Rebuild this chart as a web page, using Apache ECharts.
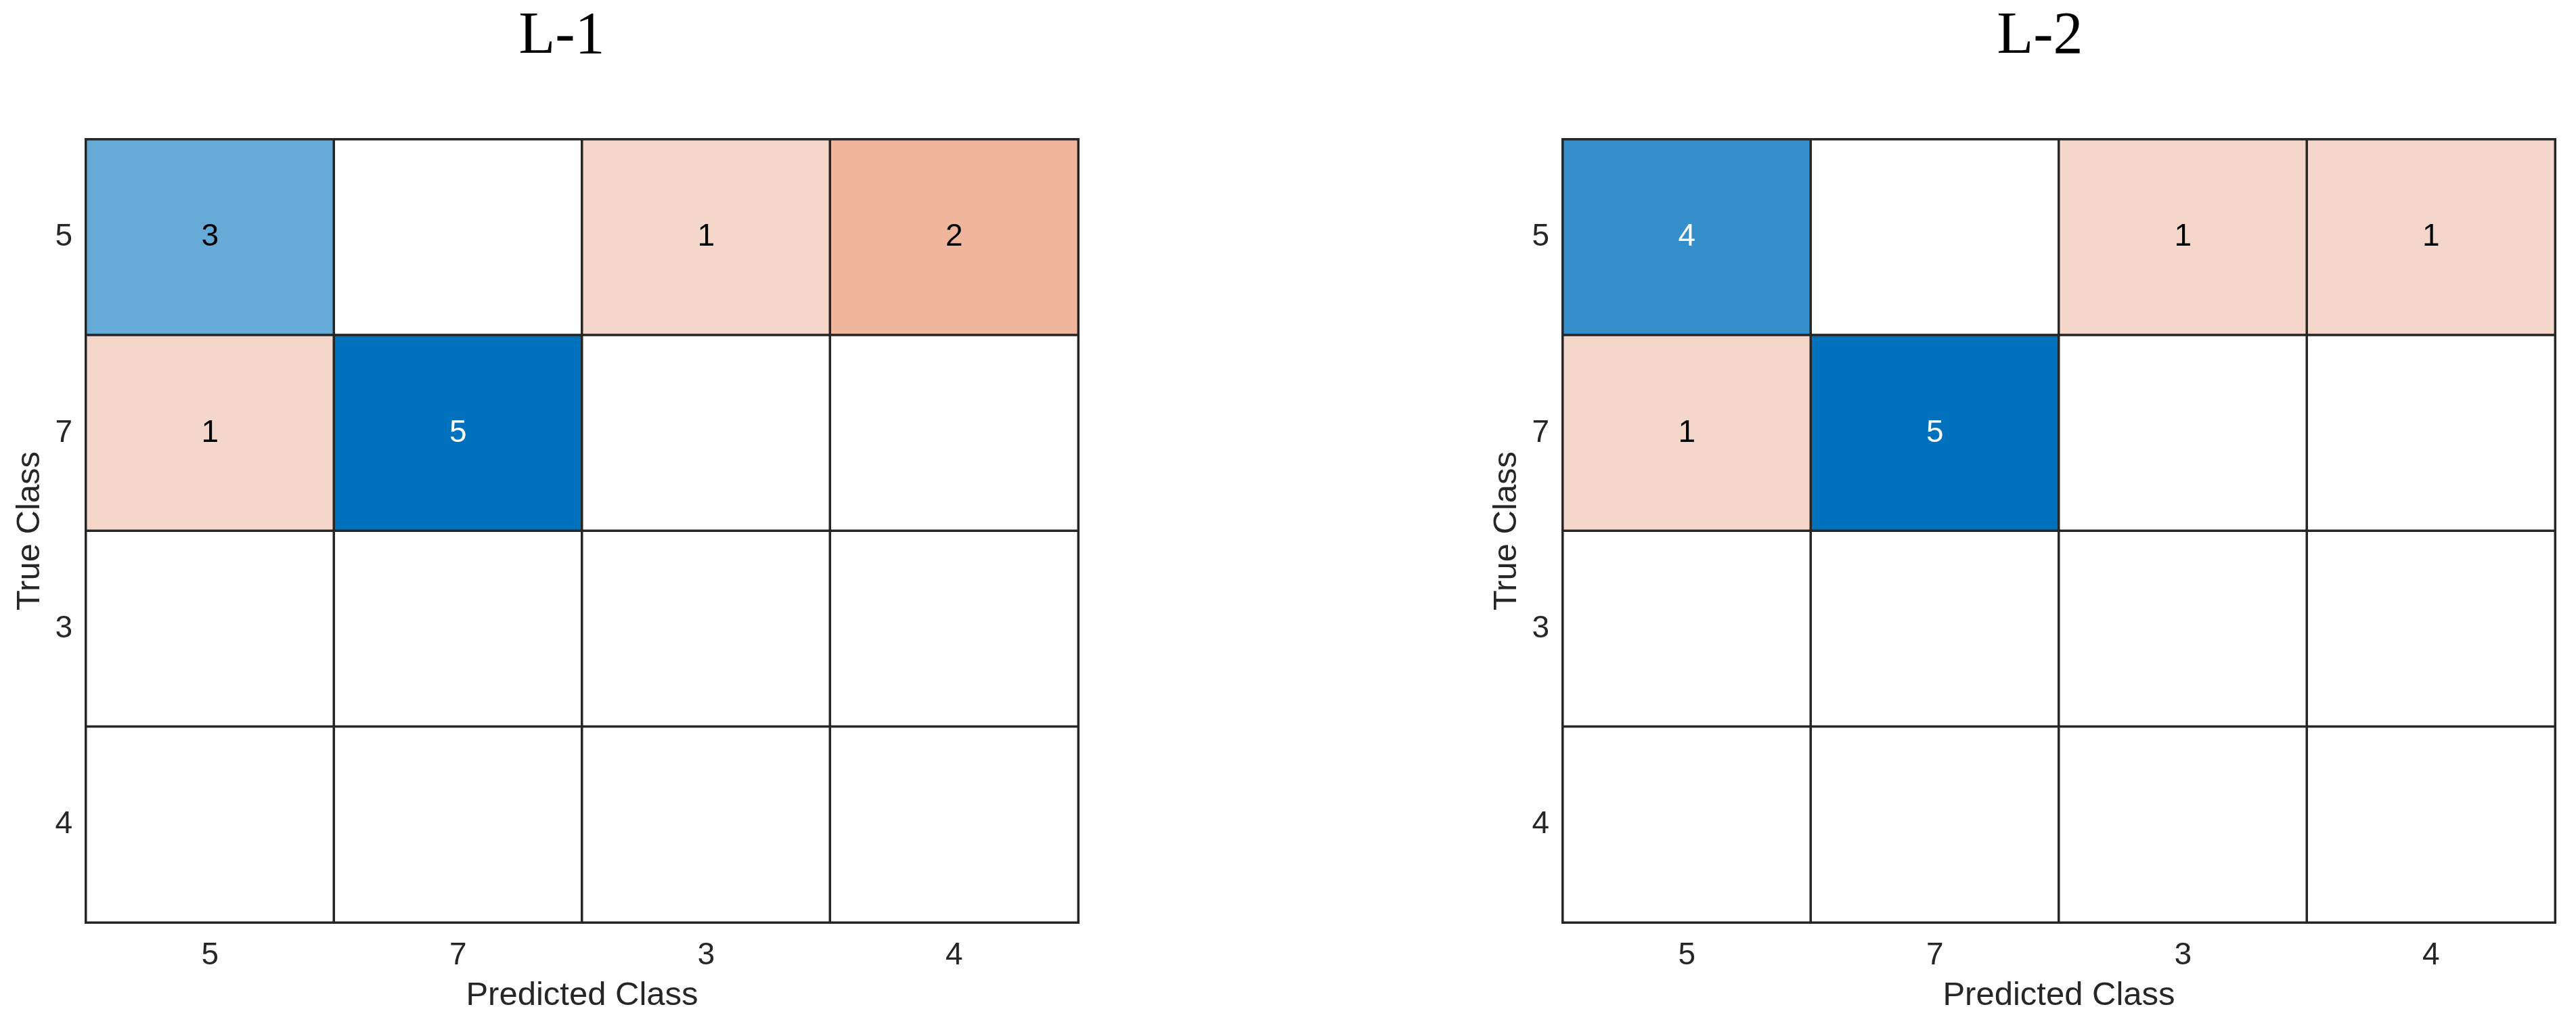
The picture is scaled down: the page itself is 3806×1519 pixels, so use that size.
<!DOCTYPE html>
<html>
<head>
<meta charset="utf-8">
<script src="https://cdn.jsdelivr.net/npm/echarts@6/dist/echarts.min.js"></script>
<style>html,body{margin:0;padding:0;background:#fff;}#c{width:3806px;height:1519px;}</style>
</head>
<body>
<div id="c"></div>
<script>
const classes = ['5', '7', '3', '4'];
const titles = ['L-1', 'L-2'];
// rows = true class, cols = predicted class
const matrixL1 = [
  [3, 0, 1, 2],
  [1, 5, 0, 0],
  [0, 0, 0, 0],
  [0, 0, 0, 0]
];
const matrixL2 = [
  [4, 0, 1, 1],
  [1, 5, 0, 0],
  [0, 0, 0, 0],
  [0, 0, 0, 0]
];
const matrices = [matrixL1, matrixL2];

const offDiagColors = {1: '#F5D6CA', 2: '#EFB59D'};
function cellColor(v, diag, maxV) {
  if (!v) return '#ffffff';
  if (diag) {
    const t = v / maxV;
    const r = Math.round(255 - (255 - 0) * t);
    const g = Math.round(255 - (255 - 114) * t);
    const b = Math.round(255 - (255 - 189) * t);
    return `rgb(${r},${g},${b})`;
  }
  return offDiagColors[v] || '#E9946F';
}

const gridLefts = [127, 2309];
const titleCenters = [825, 3009];
const font = 'Liberation Sans, Arial, sans-serif';
const lineCol = '#262626';

const option = {
  backgroundColor: '#ffffff',
  animation: false,
  title: titles.map((t, i) => ({
    text: t,
    left: titleCenters[i],
    top: 6,
    textAlign: 'center',
    textStyle: {fontFamily: 'Liberation Serif, Times New Roman, serif', fontSize: 88, fontWeight: 'normal', color: '#000'}
  })),
  grid: gridLefts.map(l => ({left: l, top: 206, width: 1466, height: 1157})),
  xAxis: gridLefts.map((l, i) => ({
    type: 'category', gridIndex: i, data: classes,
    name: 'Predicted Class', nameLocation: 'middle', nameGap: 84,
    nameTextStyle: {fontFamily: font, fontSize: 49, color: lineCol},
    axisLine: {show: false}, axisTick: {show: false}, splitLine: {show: false},
    axisLabel: {fontFamily: font, fontSize: 46, color: lineCol, margin: 26}
  })),
  yAxis: gridLefts.map((l, i) => ({
    type: 'category', gridIndex: i, data: classes, inverse: true,
    name: 'True Class', nameLocation: 'middle', nameGap: 58,
    nameTextStyle: {fontFamily: font, fontSize: 49, color: lineCol},
    axisLine: {show: false}, axisTick: {show: false}, splitLine: {show: false},
    axisLabel: {fontFamily: font, fontSize: 46, color: lineCol, margin: 20}
  })),
  series: matrices.map((m, gi) => {
    const maxV = Math.max(...m.map((row, r) => row[r]));
    const data = [];
    m.forEach((row, r) => row.forEach((v, c) => {
      const diag = r === c;
      const col = cellColor(v, diag, maxV);
      const dark = diag && v / maxV >= 0.7;
      data.push({
        value: [c, r, v],
        itemStyle: {color: col},
        label: {show: v > 0, color: dark ? '#ffffff' : '#000000'}
      });
    }));
    return {
      type: 'heatmap', xAxisIndex: gi, yAxisIndex: gi, data: data,
      itemStyle: {borderColor: lineCol, borderWidth: 3.5},
      label: {show: true, fontFamily: font, fontSize: 46, formatter: p => p.value[2] ? String(p.value[2]) : ''},
      emphasis: {disabled: true}
    };
  })
};

const chart = echarts.init(document.getElementById('c'), null, {renderer: 'canvas'});
chart.setOption(option);
</script>
</body>
</html>
